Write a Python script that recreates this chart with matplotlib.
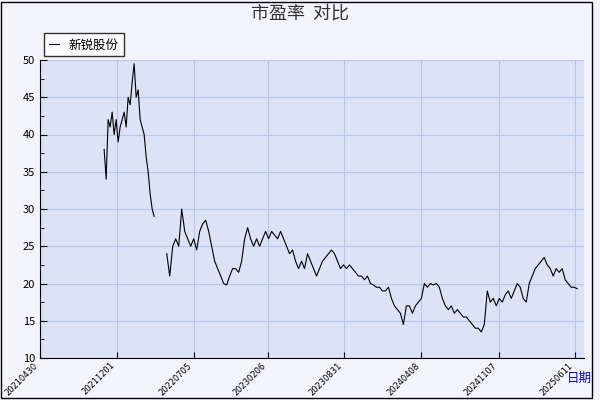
import matplotlib.pyplot as plt
import numpy as np

plt.rcParams['font.family'] = ['Noto Sans CJK SC', 'DejaVu Sans']

tick_labels = ["20210430", "20211201", "20220705", "20230206", "20230831",
               "20240408", "20241107", "20250611"]
tick_pos = [0, 150, 300, 444, 593, 743, 894, 1042]

# first segment (trading-day index start, step)
seg1_start, seg1_step = 125, 3.9
seg1 = [38, 34, 42, 41, 43, 40, 42, 39, 41, 42, 43, 41, 45, 44, 47, 49.5, 45, 46,
        42, 41, 40, 37, 35, 32, 30, 29]

seg2_start, seg2_step = 247, 5.84
seg2 = [24, 21, 25, 26, 25, 30, 27, 26, 25, 26, 24.5, 27, 28, 28.5, 27, 25, 23, 22,
        21, 20, 19.8, 21, 22, 22, 21.5, 23, 26, 27.5, 26, 25, 26, 25, 26, 27, 26, 27,
        26.5, 26, 27, 26, 25, 24, 24.5, 23, 22, 23, 22, 24, 23, 22, 21, 22, 23, 23.5,
        24, 24.5, 24, 23, 22, 22.5, 22, 22.5, 22, 21.5, 21, 21, 20.5, 21, 20, 19.8,
        19.5, 19.5, 19, 19, 19.5, 18, 17, 16.5, 16, 14.5, 17, 17, 16, 17, 17.5, 18,
        20, 19.5, 20, 19.8, 20, 19.5, 18, 17, 16.5, 17, 16, 16.5, 16, 15.5, 15.5, 15,
        14.5, 14, 14, 13.5, 14.5, 19, 17.5, 18, 17, 18, 17.5, 18.5, 19, 18, 19, 20,
        19.5, 18, 17.5, 20, 21, 22, 22.5, 23, 23.5, 22.5, 22, 21, 22, 21.5, 22, 20.5,
        20, 19.5, 19.5, 19.3]

x1 = seg1_start + seg1_step * np.arange(len(seg1))
x2 = seg2_start + seg2_step * np.arange(len(seg2))

fig = plt.figure(figsize=(6, 4), dpi=100, facecolor="#f4f4fc")
ax = fig.add_axes([0.0667, 0.105, 0.9063, 0.745])
ax.set_facecolor("#dde3f7")
ax.plot(x1, seg1, color="black", linewidth=0.8, label="新锐股份")
ax.plot(x2, seg2, color="black", linewidth=0.8)

ax.set_xlim(0, 1060)
ax.set_ylim(10, 50)
ax.set_yticks(range(10, 51, 5))
ax.set_yticks(np.arange(10, 50, 2.5), minor=True)
ax.set_xticks(tick_pos)
ax.set_xticklabels(tick_labels, rotation=45, ha="right", fontsize=6, family="DejaVu Sans")
ax.tick_params(axis="y", labelsize=8, direction="in", length=5)
ax.tick_params(axis="y", which="minor", direction="in", length=3)
ax.tick_params(axis="x", direction="in", length=4, pad=2)
ax.grid(True, color="#b8c8ec", linewidth=0.8)
for s in ["top", "right"]:
    ax.spines[s].set_visible(False)

fig.text(0.5, 0.965, "市盈率  对比", ha="center", va="center", fontsize=13, color="#333333")
fig.text(0.965, 0.055, "日期", ha="center", va="center", fontsize=9, color="#0000dd")
ax.legend(loc="upper left", bbox_to_anchor=(-0.005, 1.11), frameon=True, fancybox=False,
          edgecolor="black", fontsize=9, handlelength=0.8, borderpad=0.4)
fig.patches.append(plt.Rectangle((0.002, 0.005), 0.985, 0.99, transform=fig.transFigure,
                                 fill=False, edgecolor="black", linewidth=1))
fig.savefig("out.png", dpi=100, facecolor=fig.get_facecolor())
